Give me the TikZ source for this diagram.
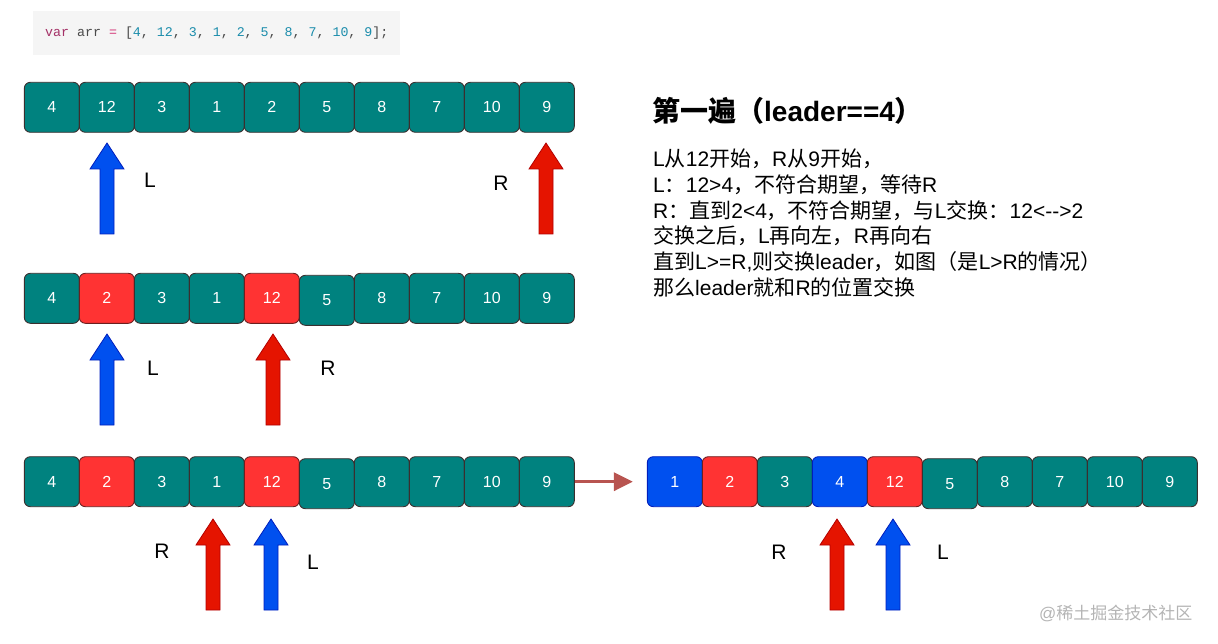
\documentclass[tikz,border=0pt]{standalone}
\usepackage{fontspec}
\setmainfont{Liberation Sans}
\setmonofont{Liberation Mono}
\newfontfamily\cjk{Noto Sans CJK SC}
\usetikzlibrary{arrows.meta}
\definecolor{tealfill}{HTML}{00827F}
\definecolor{tealline}{HTML}{3A2F2F}
\definecolor{redfill}{HTML}{FF3333}
\definecolor{redline}{HTML}{6B2020}
\definecolor{bluefill}{HTML}{0050EF}
\definecolor{blueline}{HTML}{001DBC}
\definecolor{arrred}{HTML}{E51400}
\definecolor{arrredline}{HTML}{B20000}
\definecolor{arrblue}{HTML}{0050EF}
\definecolor{arrblueline}{HTML}{001DBC}
\definecolor{linkcol}{HTML}{B85450}
\definecolor{codebg}{HTML}{F5F5F5}
\definecolor{kwcol}{HTML}{A43167}
\definecolor{opcol}{HTML}{D53D7C}
\definecolor{numcol}{HTML}{1A8CAB}
\definecolor{puncol}{HTML}{4A4A4A}
\definecolor{wmcol}{HTML}{B4B4B4}
\newcommand\blockarr[3]{%
  \draw[#3, line width=0.8pt, line join=miter] (#1,#2) -- ++(17,26) -- ++(-10,0) -- ++(0,65) -- ++(-14,0) -- ++(0,-65) -- ++(-10,0) -- cycle;}
\begin{document}
\begin{tikzpicture}[x=1pt,y=-1pt,
  cell/.style={line width=0.9pt, rounded corners=6pt, minimum width=55pt, minimum height=50pt, inner sep=0pt, text=white, font=\fontsize{16}{16}\selectfont},
  tc/.style={cell, draw=tealline, fill=tealfill},
  rc/.style={cell, draw=redline, fill=redfill},
  bc/.style={cell, draw=blueline, fill=bluefill},
  redarr/.style={draw=arrredline, fill=arrred},
  bluearr/.style={draw=arrblueline, fill=arrblue},
  lbl/.style={font=\fontsize{21}{21}\selectfont, inner sep=0pt},
  txt/.style={font=\fontsize{21}{21}\selectfont, anchor=base west, inner sep=0pt},
  link/.style={draw=linkcol, line width=3.5pt, -{Triangle[length=19pt,width=18pt]}}
]
\useasboundingbox (0,0) rectangle (1218,644);

% code box
\node[fill=codebg, minimum width=367pt, minimum height=44pt, inner sep=0pt, anchor=north west] (code) at (33,11) {};
\node[anchor=west, inner sep=0pt, font=\ttfamily\fontsize{13.3}{14}\selectfont] (codetxt) at (45,33)
 {\textcolor{kwcol}{var} \textcolor{puncol}{arr} \textcolor{opcol}{=} \textcolor{puncol}{[}\textcolor{numcol}{4}\textcolor{puncol}{,} \textcolor{numcol}{12}\textcolor{puncol}{,} \textcolor{numcol}{3}\textcolor{puncol}{,} \textcolor{numcol}{1}\textcolor{puncol}{,} \textcolor{numcol}{2}\textcolor{puncol}{,} \textcolor{numcol}{5}\textcolor{puncol}{,} \textcolor{numcol}{8}\textcolor{puncol}{,} \textcolor{numcol}{7}\textcolor{puncol}{,} \textcolor{numcol}{10}\textcolor{puncol}{,} \textcolor{numcol}{9}\textcolor{puncol}{];}};

% row 1
\foreach \v/\s/\d [count=\i] in {4/tc/0,12/tc/0,3/tc/0,1/tc/0,2/tc/0,5/tc/0,8/tc/0,7/tc/0,10/tc/0,9/tc/0}
  \node[\s] (ra\i) at ({51.8+55*(\i-1)}, {107.3+\d}) {\v};
% row 2
\foreach \v/\s/\d [count=\i] in {4/tc/0,2/rc/0,3/tc/0,1/tc/0,12/rc/0,5/tc/2,8/tc/0,7/tc/0,10/tc/0,9/tc/0}
  \node[\s] (rb\i) at ({51.8+55*(\i-1)}, {298.3+\d}) {\v};
% row 3
\foreach \v/\s/\d [count=\i] in {4/tc/0,2/rc/0,3/tc/0,1/tc/0,12/rc/0,5/tc/2,8/tc/0,7/tc/0,10/tc/0,9/tc/0}
  \node[\s] (rc\i) at ({51.8+55*(\i-1)}, {481.7+\d}) {\v};
% row 4
\foreach \v/\s/\d [count=\i] in {1/bc/0,2/rc/0,3/tc/0,4/bc/0,12/rc/0,5/tc/2,8/tc/0,7/tc/0,10/tc/0,9/tc/0}
  \node[\s] (rd\i) at ({674.8+55*(\i-1)}, {481.7+\d}) {\v};

% link arrow
\draw[link, shorten >=14pt] (rc10.east) -- (rd1.west);

% block arrows
\blockarr{107}{143}{bluearr}
\blockarr{546}{143}{redarr}
\blockarr{107}{334}{bluearr}
\blockarr{273}{334}{redarr}
\blockarr{213}{519}{redarr}
\blockarr{271}{519}{bluearr}
\blockarr{837}{519}{redarr}
\blockarr{893}{519}{bluearr}

% labels
\node[lbl] (la1) at (150,180) {L};
\node[lbl] (lr1) at (501,183) {R};
\node[lbl] (la2) at (153,368) {L};
\node[lbl] (lr2) at (328,368) {R};
\node[lbl] (lr3) at (162,551) {R};
\node[lbl] (la3) at (313,562) {L};
\node[lbl] (lr4) at (779,552) {R};
\node[lbl] (la4) at (943,552) {L};

% text block
\node[anchor=base west, inner sep=0pt, font=\bfseries\fontsize{28}{28}\selectfont] (title) at (652,121.5)
  {{\cjk\bfseries 第一遍（}leader==4{\cjk\bfseries ）}};
\node[txt] (t1) at (653,166.7) {L{\cjk 从}12{\cjk 开始，}R{\cjk 从}9{\cjk 开始，}};
\node[txt] (t2) at (653,192.4) {L{\cjk ：}12>4{\cjk ，不符合期望，等待}R};
\node[txt] (t3) at (653,218.1) {R{\cjk ：直到}2<4{\cjk ，不符合期望，与}L{\cjk 交换：}12<-{}->2};
\node[txt] (t4) at (653,243.8) {{\cjk 交换之后，}L{\cjk 再向左，}R{\cjk 再向右}};
\node[txt] (t5) at (653,269.5) {{\cjk 直到}L>=R,{\cjk 则交换}leader{\cjk ，如图（是}L>R{\cjk 的情况）}};
\node[txt] (t6) at (653,295.2) {{\cjk 那么}leader{\cjk 就和}R{\cjk 的位置交换}};

% watermark
\node[anchor=west, inner sep=0pt, text=wmcol, font=\fontsize{17}{17}\selectfont] (wm) at (1039,613) {@{\cjk 稀土掘金技术社区}};
\end{tikzpicture}
\end{document}
